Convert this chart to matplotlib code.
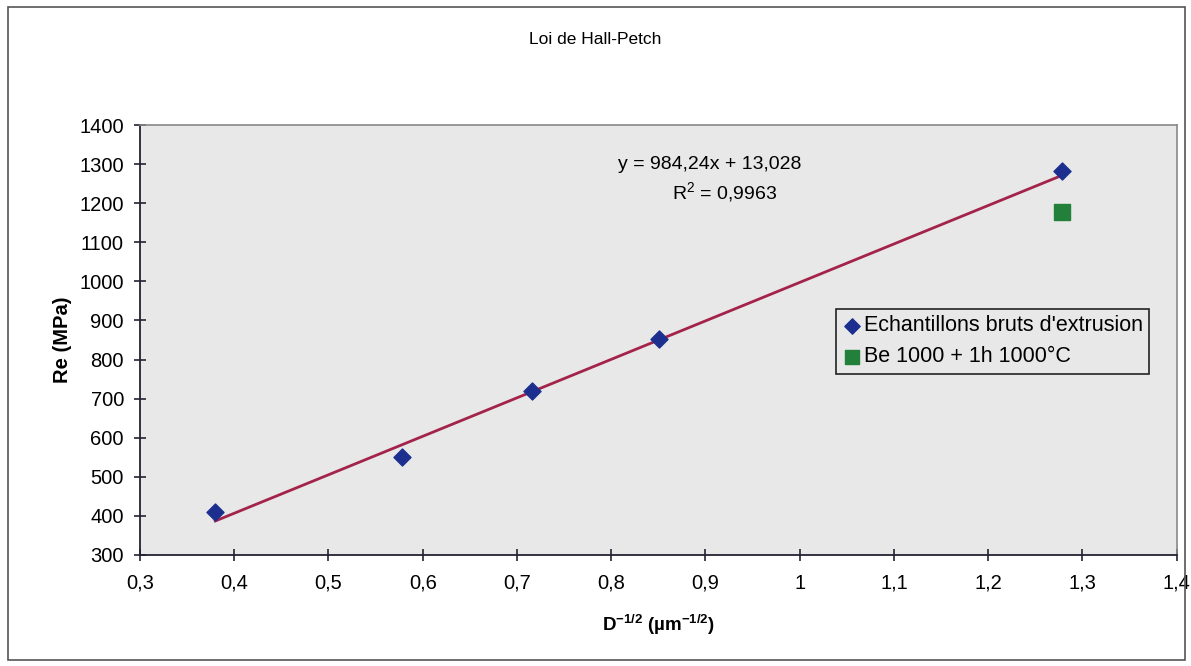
import numpy as np
import matplotlib
matplotlib.use("Agg")
from matplotlib import pyplot as plt
from matplotlib.patches import Rectangle

plt.rcParams['font.family'] = ['Liberation Sans', 'DejaVu Sans']
plt.rcParams['mathtext.fontset'] = 'custom'
plt.rcParams['mathtext.rm'] = 'Liberation Sans'
plt.rcParams['mathtext.bf'] = 'Liberation Sans:bold'

# data
x_bruts = [0.38, 0.578, 0.716, 0.851, 1.278]
re_bruts = [410, 550, 720, 852, 1283]
x_recuit = [1.278]
re_recuit = [1177]
slope = 984.24
intercept = 13.028
r2 = 0.9963

xticks = np.arange(0.3, 1.41, 0.1)
yticks = np.arange(300, 1401, 100)

def fr(v):
    s = ("%.1f" % v).rstrip("0").rstrip(".")
    return s.replace(".", ",")

fig = plt.figure(figsize=(11.91, 6.66), dpi=100)
fig.patch.set_facecolor("white")
fig.patches.append(Rectangle((0.007, 0.009), 0.988, 0.98, transform=fig.transFigure,
                             fill=False, edgecolor="#555555", linewidth=1.2))

ax = fig.add_axes([0.1175, 0.1667, 0.8705, 0.6456])
ax.set_facecolor("#e8e8e8")

# trendline
xf = np.array([min(x_bruts), max(x_bruts)])
ax.plot(xf, slope * xf + intercept, color="#a3234a", linewidth=2, zorder=2)

ax.scatter(x_bruts, re_bruts, marker="D", s=75, color="#1c2f8f", zorder=3,
           label="Echantillons bruts d'extrusion")
ax.scatter(x_recuit, re_recuit, marker="s", s=120, color="#23803a", zorder=3,
           label="Be 1000 + 1h 1000°C")

ax.set_xlim(0.3, 1.4)
ax.set_ylim(300, 1400)
ax.set_xticks(xticks)
ax.set_xticklabels([fr(v) for v in xticks])
ax.set_yticks(yticks)
ax.set_yticklabels([str(int(v)) for v in yticks])
ax.tick_params(direction="inout", length=9, width=1.2, labelsize=14.5, color="#222233")
ax.tick_params(axis="x", pad=9)
ax.tick_params(axis="y", pad=7)

for side in ["left", "bottom"]:
    ax.spines[side].set_color("#222233")
    ax.spines[side].set_linewidth(1.3)
for side in ["top", "right"]:
    ax.spines[side].set_color("#888888")
    ax.spines[side].set_linewidth(1.2)

eq = "y = %sx + %s" % (str(slope).replace(".", ","), str(intercept).replace(".", ","))
ax.text(0.905, 1300, eq, ha="center", va="center", fontsize=14)
ax.text(0.92, 1226, "R$^2$ = %s" % str(r2).replace(".", ","), ha="center", va="center", fontsize=14)

ax.set_xlabel(r"D$^{\mathbf{-1/2}}$ (µm$^{\mathbf{-1/2}}$)", fontsize=13.5,
              fontweight="bold", labelpad=14)
ax.set_ylabel("Re (MPa)", fontsize=14.5, fontweight="bold", labelpad=5)

fig.text(0.5, 0.941, "Loi de Hall-Petch", ha="center", va="center", fontsize=12.5)

leg = ax.legend(loc="upper left", bbox_to_anchor=(0.671, 0.572), fontsize=15.5,
                frameon=True, fancybox=False, edgecolor="#222222", facecolor="#e8e8e8",
                handletextpad=0.1, handlelength=0.9, borderpad=0.3, borderaxespad=0,
                labelspacing=0.45, markerscale=0.9)
leg.get_frame().set_linewidth(1.2)
leg.get_frame().set_alpha(1)

fig.savefig("out.png", dpi=100)
